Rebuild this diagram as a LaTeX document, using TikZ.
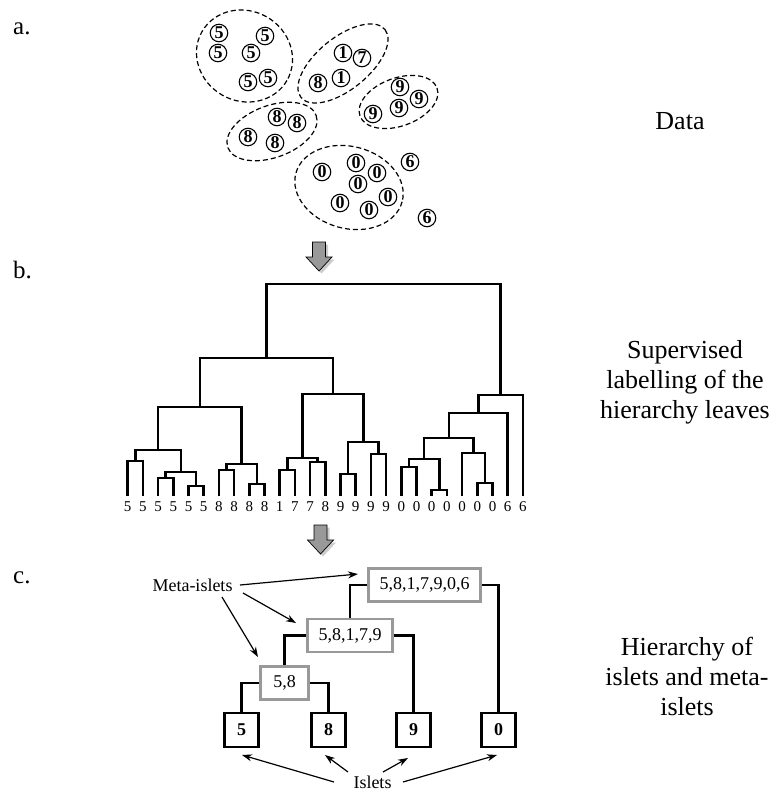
\documentclass[tikz,border=0pt]{standalone}
\usepackage{fontspec}
\setmainfont{Liberation Serif}
\usetikzlibrary{arrows.meta,calc}
\definecolor{boxgray}{gray}{0.6}
\definecolor{arrgray}{gray}{0.6}
\definecolor{shgray}{gray}{0.8}
\newcommand\dmerge[4]{%
  \path ($(#2)!.5!(#3)$) coordinate (mrgtmp);
  \coordinate (#1) at (mrgtmp |- 0,#4);
  \draw[dend] (#2) |- (#1) -| (#3);}
\begin{document}
\begin{tikzpicture}[x=1pt,y=-1pt,
  datum/.style={circle, draw, line width=1.1pt, minimum size=17.5pt, inner sep=0pt, font=\fontsize{18}{18}\bfseries\selectfont},
  clus/.style={line width=1.2pt, dash pattern=on 5pt off 3pt},
  dend/.style={line width=2.6pt, line join=miter},
  leaflab/.style={inner sep=0pt, font=\fontsize{15}{15}\selectfont},
  bigtxt/.style={inner sep=0pt, align=center, font=\fontsize{26}{30}\selectfont},
  panel/.style={inner sep=0pt, anchor=base west, font=\fontsize{25}{30}\selectfont},
  meta/.style={draw=boxgray, line width=2.5pt, fill=white, inner sep=0pt, minimum height=33pt, font=\fontsize{18}{18}\selectfont},
  islet/.style={draw, line width=2.5pt, fill=white, inner sep=0pt, minimum size=34pt, font=\fontsize{18}{18}\bfseries\selectfont},
  link/.style={line width=2.6pt},
  ptr/.style={-{Stealth[length=10pt,width=7pt]}, line width=1.2pt},
  smalltxt/.style={inner sep=0pt, font=\fontsize{18}{18}\selectfont},
  grayarrow/.style={fill=arrgray, draw=black, line width=0.7pt, line join=miter}
]
\useasboundingbox (0,0) rectangle (773,792);

% panel labels
\node[panel] (pa) at (13,35) {a.};
\node[panel] (pb) at (13,278) {b.};
\node[panel] (pc) at (13,583) {c.};

% right-hand texts
\node[bigtxt] (tdata) at (680,121) {Data};
\node[bigtxt] (tsup) at (685,382) {Supervised\\labelling of the\\hierarchy leaves};
\node[bigtxt] (thier) at (687,676) {Hierarchy of\\islets and meta-\\islets};

% ---------- a. data ----------
\draw[clus, rotate around={-30:(244.5,56)}] (244.5,56) ellipse [x radius=49, y radius=45];
\draw[clus, rotate around={39:(343,63.5)}] (343,63.5) ellipse [x radius=54, y radius=26];
\draw[clus, rotate around={20:(398.5,102)}] (398.5,102) ellipse [x radius=41, y radius=24];
\draw[clus, rotate around={20:(272,131.5)}] (272,131.5) ellipse [x radius=47, y radius=26];
\draw[clus, rotate around={-15:(349,187.5)}] (349,187.5) ellipse [x radius=55, y radius=41];

\node[datum] (a1) at (219,33) {5};
\node[datum] (a2) at (265,36) {5};
\node[datum] (a3) at (218,53) {5};
\node[datum] (a4) at (251,53) {5};
\node[datum] (a5) at (248,82) {5};
\node[datum] (a6) at (268,78) {5};
\node[datum] (b1) at (343,53) {1};
\node[datum] (b2) at (362,58) {7};
\node[datum] (b3) at (318,83) {8};
\node[datum] (b4) at (341,78) {1};
\node[datum] (c1) at (400,87) {9};
\node[datum] (c2) at (419,99) {9};
\node[datum] (c3) at (373,114) {9};
\node[datum] (c4) at (399,108) {9};
\node[datum] (e1) at (277,117) {8};
\node[datum] (e2) at (297,123) {8};
\node[datum] (e3) at (248,137) {8};
\node[datum] (e4) at (275,143) {8};
\node[datum] (f1) at (322,172) {0};
\node[datum] (f2) at (356,163) {0};
\node[datum] (f3) at (377,173) {0};
\node[datum] (f4) at (358,184) {0};
\node[datum] (f5) at (388,197) {0};
\node[datum] (f6) at (340,203) {0};
\node[datum] (f7) at (369,210) {0};
\node[datum] (g1) at (410,162) {6};
\node[datum] (g2) at (427,218) {6};

% gray arrows
\foreach \cx/\ty in {319/242, 320.5/525} {
  \fill[shgray] ($(\cx,\ty)+(2.5,2.5)$) ++(-6.5,0) -- ++(13,0) -- ++(0,15) -- ++(6.5,0) -- ++(-13,14) -- ++(-13,-14) -- ++(6.5,0) -- cycle;
  \draw[grayarrow] (\cx,\ty) ++(-6.5,0) -- ++(13,0) -- ++(0,15) -- ++(6.5,0) -- ++(-13,14) -- ++(-13,-14) -- ++(6.5,0) -- cycle;
}

% ---------- b. dendrogram ----------
\foreach \d [count=\i from 0] in {5,5,5,5,5,5,8,8,8,8,1,7,7,8,9,9,9,9,0,0,0,0,0,0,0,6,6} {
  \coordinate (l\i) at ({127.7+15.2*\i},496);
  \node[leaflab] (t\i) at ({127.7+15.2*\i},507) {\d};
}
\dmerge{m01}{l0}{l1}{461}
\dmerge{m23}{l2}{l3}{478}
\dmerge{m45}{l4}{l5}{486}
\dmerge{m25}{m23}{m45}{472}
\dmerge{m05}{m01}{m25}{450}
\dmerge{m67}{l6}{l7}{470}
\dmerge{m89}{l8}{l9}{484}
\dmerge{m69}{m67}{m89}{464}
\dmerge{m09}{m05}{m69}{407}
\dmerge{m1011}{l10}{l11}{470}
\dmerge{m1213}{l12}{l13}{462}
\dmerge{m1013}{m1011}{m1213}{458}
\dmerge{m1415}{l14}{l15}{474}
\dmerge{m1617}{l16}{l17}{454}
\dmerge{m1417}{m1415}{m1617}{442}
\dmerge{m1017}{m1013}{m1417}{394}
\dmerge{m017}{m09}{m1017}{358}
\dmerge{m1819}{l18}{l19}{467}
\dmerge{m2021}{l20}{l21}{490}
\dmerge{m1821}{m1819}{m2021}{459}
\dmerge{m2324}{l23}{l24}{483}
\dmerge{m2224}{l22}{m2324}{453}
\dmerge{m1824}{m1821}{m2224}{438}
\dmerge{m1825}{m1824}{l25}{413}
\dmerge{m1826}{m1825}{l26}{395}
\dmerge{root}{m017}{m1826}{284}

% ---------- c. islets ----------
\node[meta, minimum width=112pt] (mA) at (424.5,585) {5,8,1,7,9,0,6};
\node[meta, minimum width=85pt] (mB) at (350,635.5) {5,8,1,7,9};
\node[meta, minimum width=48pt] (mC) at (284.5,683) {5,8};
\node[islet] (i5) at (241.5,730) {5};
\node[islet] (i8) at (328.5,730) {8};
\node[islet] (i9) at (413.5,730) {9};
\node[islet] (i0) at (498.5,730) {0};

\draw[link] (mA.west) -| (mB.north);
\draw[link] (mA.east) -| (i0.north);
\draw[link] (mB.west) -| (mC.north);
\draw[link] (mB.east) -| (i9.north);
\draw[link] (mC.west) -| (i5.north);
\draw[link] (mC.east) -| (i8.north);

\node[smalltxt] (meta) at (192.5,585) {Meta-islets};
\node[smalltxt] (isl) at (372.5,782) {Islets};

\coordinate (ma1) at (240,585);
\coordinate (ma2) at (243,593);
\coordinate (ma3) at (222,597);
\coordinate (me1) at (358,574);
\coordinate (me2) at (296,623);
\coordinate (me3) at (258,657);
\draw[ptr] (ma1) -- (me1);
\draw[ptr] (ma2) -- (me2);
\draw[ptr] (ma3) -- (me3);

\coordinate (is1) at (334,782);
\coordinate (is2) at (348,772);
\coordinate (is3) at (383,772);
\coordinate (is4) at (403,782);
\coordinate (ie1) at (242,755);
\coordinate (ie2) at (325,755);
\coordinate (ie3) at (408,758);
\coordinate (ie4) at (497,755);
\draw[ptr] (is1) -- (ie1);
\draw[ptr] (is2) -- (ie2);
\draw[ptr] (is3) -- (ie3);
\draw[ptr] (is4) -- (ie4);
\end{tikzpicture}
\end{document}
